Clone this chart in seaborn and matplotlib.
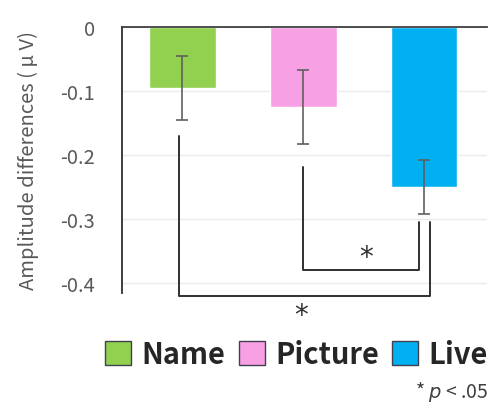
import matplotlib
matplotlib.use("Agg")
import matplotlib.pyplot as plt
import pandas as pd
import seaborn as sns
from matplotlib.patches import Patch

# data
conditions = ["Name", "Picture", "Live"]
amplitude = [-0.095, -0.125, -0.25]
err = [0.05, 0.058, 0.042]
colors = ["#92D050", "#F7A1E4", "#00B0F0"]
yticks = [0, -0.1, -0.2, -0.3, -0.4]
ytick_labels = ["0", "-0.1", "-0.2", "-0.3", "-0.4"]

sns.set_theme(style="white")
plt.rcParams["font.family"] = ["Noto Sans CJK JP", "DejaVu Sans"]

df = pd.DataFrame({"condition": conditions, "amplitude": amplitude})

fig = plt.figure(figsize=(4.96, 4.14), dpi=100)
ax = fig.add_axes([0.246, 0.291, 0.736, 0.641])

sns.barplot(data=df, x="condition", y="amplitude", hue="condition",
            palette=colors, width=0.55, legend=False, ax=ax, saturation=1)
ax.errorbar(range(len(conditions)), amplitude, yerr=err, fmt="none",
            ecolor="#606060", elinewidth=1.2, capsize=4, capthick=1.2)

ax.set_xlim(-0.5, 2.52)
ax.set_ylim(-0.415, 0)
ax.set_yticks(yticks)
ax.set_yticklabels(ytick_labels, color="#595959", fontsize=14.5)
ax.yaxis.grid(True, color="#EBEBEB", linewidth=1)
ax.set_axisbelow(True)
ax.tick_params(axis="y", direction="inout", length=9, width=1.3, color="#303030", pad=15)
ax.set_xticks([])
ax.set_xlabel("")
ax.set_ylabel("Amplitude differences ( \u03bc V)", color="#595959", fontsize=14.5, labelpad=15)
ax.spines["right"].set_visible(False)
ax.spines["bottom"].set_visible(False)
ax.spines["left"].set_color("#303030")
ax.spines["left"].set_linewidth(1.3)
ax.spines["top"].set_color("#404040")
ax.spines["top"].set_linewidth(1.3)

# significance brackets
br = dict(color="#303030", lw=1.4, clip_on=False)
ax.plot([1, 1, 1.96, 1.96], [-0.219, -0.38, -0.38, -0.305], **br)
ax.text(1.52, -0.36, "*", ha="center", va="center", fontsize=20,
        color="#303030", family="DejaVu Sans")
ax.plot([-0.03, -0.03, 2.05, 2.05], [-0.17, -0.42, -0.42, -0.305], **br)
ax.text(0.98, -0.45, "*", ha="center", va="center", fontsize=20,
        color="#303030", family="DejaVu Sans", clip_on=False)

handles = [Patch(facecolor=c, edgecolor="#404050", linewidth=1) for c in colors]
fig.legend(handles, conditions, loc="center", bbox_to_anchor=(0.598, 0.142), ncol=3,
           frameon=False, prop={"weight": "bold", "size": 21},
           handlelength=0.9, handleheight=0.9, handletextpad=0.35,
           columnspacing=0.45, borderaxespad=0)

fig.text(0.985, 0.025, r"* $\it{p}$ < .05", ha="right", va="bottom",
         fontsize=14, color="#404040")

fig.savefig("out.png", dpi=100)
